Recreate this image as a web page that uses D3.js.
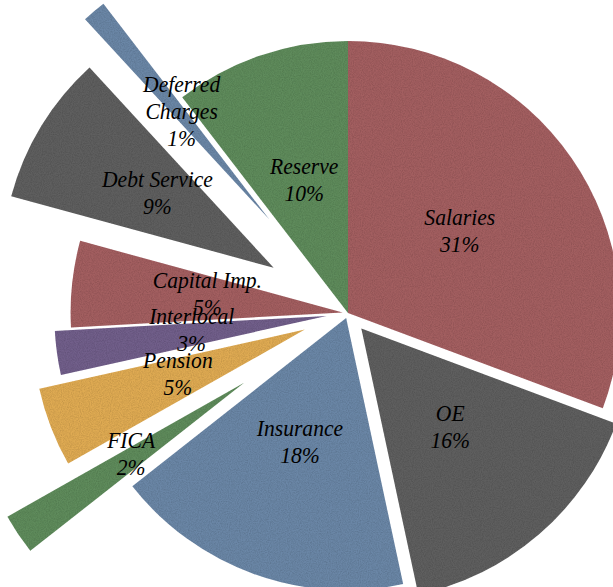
<!DOCTYPE html>
<html>
<head>
<meta charset="utf-8">
<script src="https://cdn.jsdelivr.net/npm/d3@7"></script>
<style>
    body { margin: 0; background: #fff; overflow: hidden; }
    svg { display: block; }
</style>
</head>
<body>
<svg></svg>
<script>
// data
const categories = ["Salaries", "OE", "Insurance", "FICA", "Pension", "Interlocal", "Capital Imp.", "Debt Service", "Deferred Charges", "Reserve"];
const shares = [30.6, 15.9, 17.7, 2.4, 4.7, 2.6, 5.1, 8.9, 1.4, 10.4];
// how far each slice is pulled out, as part of the radius
const explode = [0, 0.075, 0.02, 0.46, 0.17, 0.08, 0.02, 0.32, 0.45, 0];
const palette = ["#a35e61", "#5e5e5e", "#6b86a6", "#5f8b5b", "#dfaa53", "#715e8a"];

const width = 613;
const height = 587;
const cx = 348;
const cy = 313;
const radius = 272;
const lineH = 27;

let svg = d3.select("svg")
    .attr("width", width)
    .attr("height", height);

// paper grain like the original fill
let filter = svg.append("defs").append("filter")
    .attr("id", "grain")
    .attr("x", 0).attr("y", 0).attr("width", 1).attr("height", 1);
filter.append("feTurbulence")
    .attr("type", "fractalNoise")
    .attr("baseFrequency", 0.9)
    .attr("numOctaves", 2)
    .attr("seed", 3)
    .attr("result", "noise");
filter.append("feColorMatrix")
    .attr("in", "noise")
    .attr("type", "matrix")
    .attr("values", "0 0 0 0 0  0 0 0 0 0  0 0 0 0 0  0.45 0 0 0 -0.15")
    .attr("result", "dots");
filter.append("feComposite")
    .attr("in", "dots").attr("in2", "SourceGraphic")
    .attr("operator", "in")
    .attr("result", "dotsIn");
let merge = filter.append("feMerge");
merge.append("feMergeNode").attr("in", "SourceGraphic");
merge.append("feMergeNode").attr("in", "dotsIn");

let data = categories.map((name, i) => ({ name: name, value: shares[i], explode: explode[i], color: palette[i % palette.length] }));
let total = d3.sum(shares);

let pie = d3.pie()
    .sort(null)
    .value(d => d.value)
    .startAngle(0)
    .endAngle(2 * Math.PI);

let arc = d3.arc()
    .innerRadius(0)
    .outerRadius(radius);

let arcs = pie(data);

let shift = (a) => {
    let mid = (a.startAngle + a.endAngle) / 2;
    let k = a.data.explode * radius;
    return [Math.sin(mid) * k, -Math.cos(mid) * k];
};

let g = svg.append("g")
    .attr("transform", `translate(${cx}, ${cy})`);

g.selectAll(".slice")
    .data(arcs)
    .enter()
    .append("path")
    .attr("class", "slice")
    .attr("d", arc)
    .attr("transform", d => `translate(${shift(d)})`)
    .style("fill", d => d.data.color)
    .attr("filter", "url(#grain)");

// labels
let wrapName = (name) => name.length > 13 ? name.split(" ") : [name];

let labels = g.selectAll(".label")
    .data(arcs)
    .enter()
    .append("text")
    .attr("class", "label")
    .attr("transform", d => {
        let [sx, sy] = shift(d);
        let [lx, ly] = arc.centroid(d);
        return `translate(${sx + lx}, ${sy + ly - 5}) scale(0.9, 1)`;
    })
    .attr("text-anchor", "middle")
    .style("font-family", "'Liberation Serif', 'Times New Roman', serif")
    .style("font-style", "italic")
    .style("font-size", "24px")
    .style("fill", "#000");

labels.each(function (d) {
    let lines = wrapName(d.data.name);
    lines.push(Math.round(d.data.value / total * 100) + "%");
    let top = -(lines.length - 1) / 2 * lineH;
    d3.select(this).selectAll("tspan")
        .data(lines)
        .enter()
        .append("tspan")
        .attr("x", 0)
        .attr("y", (t, i) => top + i * lineH)
        .attr("dy", "0.35em")
        .text(t => t);
});
</script>
</body>
</html>
